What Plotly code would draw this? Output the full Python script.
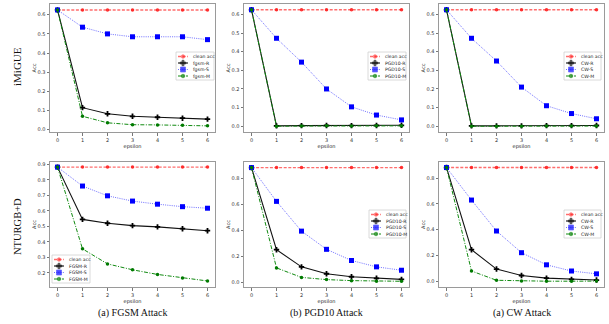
import plotly.graph_objects as go

W, H = 609, 324

# ---------------- data ----------------
eps = [0, 1, 2, 3, 4, 5, 6]

# iMiGUE
im_clean = [0.625, 0.625, 0.625, 0.625, 0.625, 0.625, 0.625]
im_fgsm_R = [0.625, 0.115, 0.083, 0.070, 0.065, 0.060, 0.055]
im_fgsm_S = [0.625, 0.535, 0.500, 0.485, 0.485, 0.485, 0.470]
im_fgsm_M = [0.625, 0.070, 0.036, 0.026, 0.025, 0.023, 0.020]
im_pgd_R = [0.625, 0.002, 0.003, 0.004, 0.003, 0.004, 0.005]
im_pgd_S = [0.625, 0.472, 0.344, 0.200, 0.104, 0.060, 0.034]
im_pgd_M = [0.625, 0.000, 0.001, 0.002, 0.001, 0.002, 0.002]
im_cw_R = [0.625, 0.002, 0.002, 0.002, 0.003, 0.003, 0.004]
im_cw_S = [0.625, 0.472, 0.350, 0.210, 0.110, 0.068, 0.040]
im_cw_M = [0.625, 0.000, 0.000, 0.000, 0.001, 0.001, 0.001]

# NTURGB+D
ntu_clean = [0.882, 0.882, 0.882, 0.882, 0.882, 0.882, 0.882]
ntu_fgsm_R = [0.882, 0.545, 0.520, 0.505, 0.497, 0.485, 0.472]
ntu_fgsm_S = [0.882, 0.760, 0.697, 0.663, 0.643, 0.627, 0.617]
ntu_fgsm_M = [0.882, 0.355, 0.258, 0.220, 0.190, 0.167, 0.148]
ntu_pgd_R = [0.882, 0.250, 0.118, 0.065, 0.042, 0.030, 0.022]
ntu_pgd_S = [0.882, 0.622, 0.393, 0.253, 0.167, 0.118, 0.092]
ntu_pgd_M = [0.882, 0.110, 0.037, 0.020, 0.012, 0.007, 0.007]
ntu_cw_R = [0.882, 0.245, 0.095, 0.045, 0.025, 0.015, 0.010]
ntu_cw_S = [0.882, 0.630, 0.390, 0.222, 0.128, 0.080, 0.058]
ntu_cw_M = [0.882, 0.080, 0.008, 0.002, 0.001, 0.001, 0.002]

series_names = [
    ["clean acc", "fgsm-R", "fgsm-S", "fgsm-M"],
    ["clean acc", "PGD10-R", "PGD10-S", "PGD10-M"],
    ["clean acc", "CW-R", "CW-S", "CW-M"],
    ["clean acc", "FGSM-R", "FGSM-S", "FGSM-M"],
    ["clean acc", "PGD10-R", "PGD10-S", "PGD10-M"],
    ["clean acc", "CW-R", "CW-S", "CW-M"],
]
panel_data = [
    [im_clean, im_fgsm_R, im_fgsm_S, im_fgsm_M],
    [im_clean, im_pgd_R, im_pgd_S, im_pgd_M],
    [im_clean, im_cw_R, im_cw_S, im_cw_M],
    [ntu_clean, ntu_fgsm_R, ntu_fgsm_S, ntu_fgsm_M],
    [ntu_clean, ntu_pgd_R, ntu_pgd_S, ntu_pgd_M],
    [ntu_clean, ntu_cw_R, ntu_cw_S, ntu_cw_M],
]
row_labels = ["iMiGUE", "NTURGB+D"]
subtitles = ["(a) FGSM Attack", "(b) PGD10 Attack", "(a) CW Attack"]

# ---------------- styles / layout ----------------
styles = [
    dict(line=dict(color="rgba(255,60,60,0.75)", width=1.4, dash="3px,1.6px"),
         marker=dict(symbol="circle", size=3.5, color="rgba(255,30,30,0.9)")),
    dict(line=dict(color="#111111", width=1.1, dash="solid"),
         marker=dict(symbol="cross", size=4.5, color="#000000")),
    dict(line=dict(color="rgba(40,40,255,0.75)", width=0.9, dash="1px,1.2px"),
         marker=dict(symbol="square", size=5, color="#0000ff")),
    dict(line=dict(color="#108a10", width=1.0, dash="4px,1.5px,1px,1.5px"),
         marker=dict(symbol="circle", size=3.5, color="#007a00")),
]

boxes = [(50, 215, 4, 132), (244, 409, 4, 132), (439, 604, 4, 132),
         (50, 215, 162, 287), (244, 409, 162, 287), (439, 604, 162, 287)]
yranges = [[-0.012, 0.656], [-0.031, 0.656], [-0.031, 0.656],
           [0.109, 0.915], [-0.037, 0.925], [-0.044, 0.925]]
ydticks = [0.1, 0.1, 0.1, 0.1, 0.2, 0.2]
legend_boxes = [(176, 52, 38, 28), (368, 52, 38, 28), (564, 52, 37, 28),
                (52, 255, 38, 28), (369, 210, 37, 28), (564, 210, 37, 28)]

fig = go.Figure()
tickfont = dict(family="DejaVu Sans", size=5, color="#333333")
titlefont = dict(family="DejaVu Sans", size=5, color="#222222")

layout = dict(width=W, height=H, margin=dict(l=0, r=0, t=0, b=0),
              paper_bgcolor="white", plot_bgcolor="rgba(0,0,0,0)",
              showlegend=False)

for i, (x0, x1, y0, y1) in enumerate(boxes):
    n = "" if i == 0 else str(i + 1)
    for k in range(4):
        st = styles[k]
        fig.add_trace(go.Scatter(x=eps, y=panel_data[i][k], mode="lines+markers",
                                 name=series_names[i][k], line=st["line"],
                                 marker=st["marker"], xaxis="x" + n, yaxis="y" + n,
                                 cliponaxis=False))
    layout["xaxis" + n] = dict(domain=[x0 / W, x1 / W], range=[-0.3, 6.3], anchor="y" + n,
                               showline=True, mirror=True, linecolor="#9a9a9a", linewidth=1,
                               ticks="outside", ticklen=2.5, tickcolor="#777", tickwidth=0.6,
                               tickvals=eps, tickfont=tickfont, showgrid=False, zeroline=False,
                               title=dict(text="epsilon", font=titlefont, standoff=0),
                               fixedrange=True)
    layout["yaxis" + n] = dict(domain=[1 - y1 / H, 1 - y0 / H], range=yranges[i], anchor="x" + n,
                               showline=True, mirror=True, linecolor="#9a9a9a", linewidth=1,
                               ticks="outside", ticklen=2.5, tickcolor="#777", tickwidth=0.6,
                               dtick=ydticks[i], tick0=0, tickformat=".1f", tickfont=tickfont,
                               showgrid=False, zeroline=False,
                               title=dict(text="Acc", font=titlefont, standoff=0),
                               fixedrange=True)

# overlay axis in pixel units for the legend boxes
layout["xaxis7"] = dict(domain=[0, 1], range=[0, W], visible=False, anchor="y7", fixedrange=True)
layout["yaxis7"] = dict(domain=[0, 1], range=[H, 0], visible=False, anchor="x7", fixedrange=True)

annotations = []
for i, (L, T, Wd, Ht) in enumerate(legend_boxes):
    fig.add_trace(go.Scatter(x=[L, L + Wd, L + Wd, L, L], y=[T, T, T + Ht, T + Ht, T],
                             mode="lines", fill="toself", fillcolor="rgba(255,255,255,0.9)",
                             line=dict(color="#d0d0d0", width=0.8), xaxis="x7", yaxis="y7",
                             hoverinfo="skip"))
    for k in range(4):
        yy = T + 4.5 + 6.5 * k
        st = styles[k]
        s = st["marker"]["size"]
        fig.add_trace(go.Scatter(x=[L + 2, L + 7, L + 12], y=[yy, yy, yy], mode="lines+markers",
                                 line=st["line"],
                                 marker=dict(symbol=st["marker"]["symbol"], color=st["marker"]["color"],
                                             size=[0, s, 0]),
                                 xaxis="x7", yaxis="y7", hoverinfo="skip"))
        annotations.append(dict(x=L + 15, y=yy, xref="x7", yref="y7", text=series_names[i][k],
                                showarrow=False, xanchor="left", yanchor="middle",
                                font=dict(family="DejaVu Sans", size=4.6, color="#222")))

annotations.append(dict(x=17 / W, y=1 - 67 / H, xref="paper", yref="paper", text=row_labels[0],
                        textangle=-90, showarrow=False, xanchor="center", yanchor="middle",
                        font=dict(family="Liberation Serif", size=11, color="#111")))
annotations.append(dict(x=17 / W, y=1 - 227 / H, xref="paper", yref="paper", text=row_labels[1],
                        textangle=-90, showarrow=False, xanchor="center", yanchor="middle",
                        font=dict(family="Liberation Serif", size=10.5, color="#111")))
for j in range(3):
    x0, x1 = boxes[3 + j][0], boxes[3 + j][1]
    annotations.append(dict(x=(x0 + x1) / 2 / W, y=1 - 313 / H, xref="paper", yref="paper",
                            text=subtitles[j], showarrow=False, xanchor="center", yanchor="middle",
                            font=dict(family="Liberation Serif", size=10, color="#111")))

layout["annotations"] = annotations
fig.update_layout(**layout)
fig.write_html("out.html", config={"displayModeBar": False},
               post_script="document.body.style.margin='0';document.body.style.padding='0';"
                           "document.body.style.overflow='hidden';")
